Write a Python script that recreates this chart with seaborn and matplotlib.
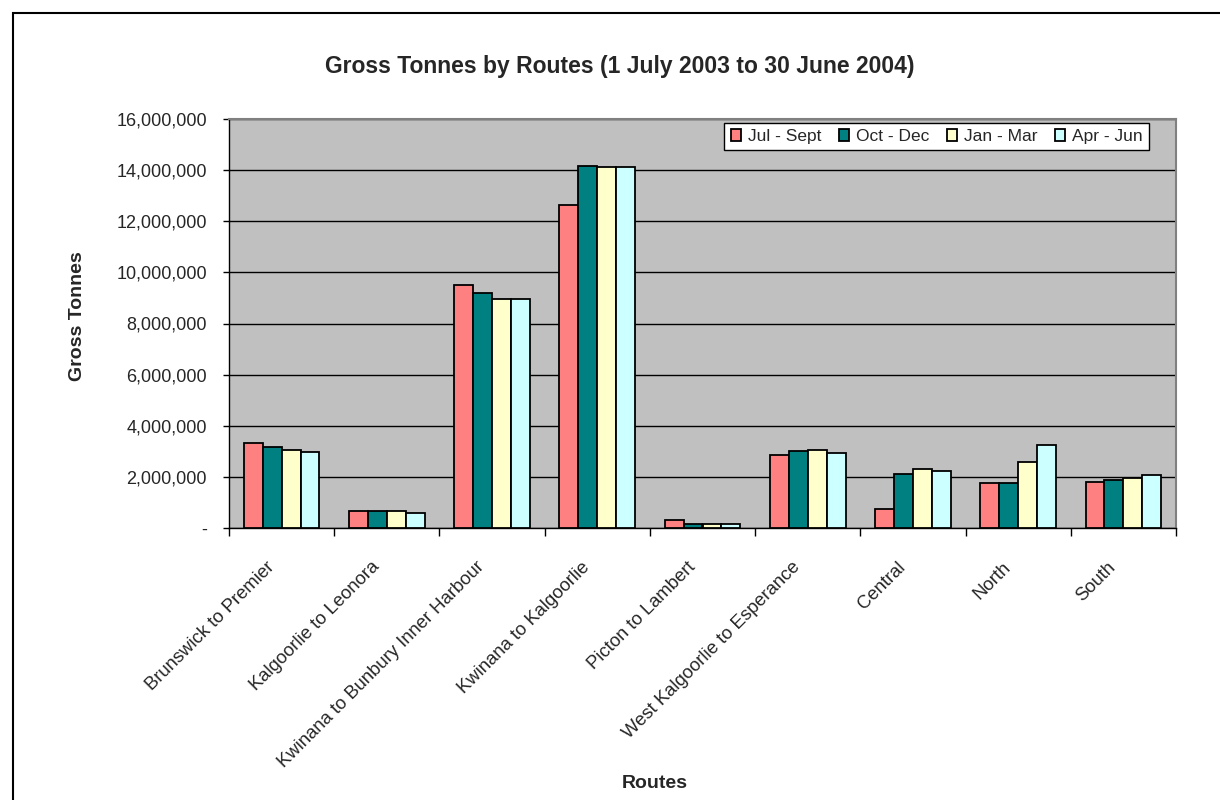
import matplotlib
matplotlib.use("Agg")
import matplotlib.pyplot as plt
import matplotlib.ticker as mticker
from matplotlib.transforms import ScaledTranslation
import seaborn as sns
import pandas as pd

routes = ["Brunswick to Premier", "Kalgoorlie to Leonora", "Kwinana to Bunbury Inner Harbour",
          "Kwinana to Kalgoorlie", "Picton to Lambert", "West Kalgoorlie to Esperance",
          "Central", "North", "South"]
periods = ["Jul - Sept", "Oct - Dec", "Jan - Mar", "Apr - Jun"]
jul_sept = [3310000, 680000, 9500000, 12620000, 300000, 2870000, 760000, 1750000, 1810000]
oct_dec = [3180000, 680000, 9200000, 14170000, 170000, 3000000, 2120000, 1750000, 1880000]
jan_mar = [3050000, 680000, 8940000, 14120000, 170000, 3050000, 2310000, 2570000, 1940000]
apr_jun = [2980000, 570000, 8940000, 14120000, 170000, 2930000, 2240000, 3250000, 2060000]
colors = ["#FF8080", "#008080", "#FFFFCC", "#CCFFFF"]

rows = []
for p, vals in zip(periods, [jul_sept, oct_dec, jan_mar, apr_jun]):
    for r, v in zip(routes, vals):
        rows.append({"Route": r, "Period": p, "Tonnes": v})
df = pd.DataFrame(rows)

sns.set_theme(style="white")
plt.rcParams['font.family'] = ['Liberation Sans', 'DejaVu Sans']

fig = plt.figure(figsize=(12.2, 8.0), dpi=100)
ax = fig.add_axes([229/1220, 1-528/800, (1176-229)/1220, (528-119)/800])

sns.barplot(data=df, x="Route", y="Tonnes", hue="Period", hue_order=periods, order=routes,
            palette=colors, width=0.72, edgecolor="black", linewidth=1.3, saturation=1,
            errorbar=None, ax=ax, zorder=3)

ax.set_facecolor("#C0C0C0")
ax.set_ylim(0, 16000000)
ax.set_xlim(-0.5, len(routes) - 0.5)
ax.yaxis.set_major_locator(mticker.MultipleLocator(2000000))
ax.yaxis.set_major_formatter(mticker.FuncFormatter(lambda v, p: "-" if v == 0 else f"{int(v):,}"))
ax.grid(axis="y", color="black", linewidth=1, zorder=1)
ax.set_axisbelow(True)

for s in ["top", "right"]:
    ax.spines[s].set_color("#808080")
    ax.spines[s].set_linewidth(1.5)
for s in ["left", "bottom"]:
    ax.spines[s].set_color("black")
    ax.spines[s].set_linewidth(1)

ax.tick_params(axis="y", which="major", direction="out", length=4.5, width=1, color="black",
               labelsize=13, left=True, pad=11.5)
ax.tick_params(axis="x", which="major", length=0, labelsize=13.3, pad=22)
ax.xaxis.set_minor_locator(mticker.FixedLocator([i - 0.5 for i in range(len(routes) + 1)]))
ax.tick_params(axis="x", which="minor", direction="out", length=6, width=1, color="black", bottom=True)
ax.set_xticks(range(len(routes)))
ax.set_xticklabels(routes, rotation=45, ha="right", rotation_mode="anchor")
shift = ScaledTranslation(-16/100, 0, fig.dpi_scale_trans)
for lab in ax.get_xticklabels():
    lab.set_transform(lab.get_transform() + shift)

ax.set_xlabel("Routes", fontsize=14, fontweight="bold")
ax.set_ylabel("Gross Tonnes", fontsize=14, fontweight="bold")
ax.xaxis.set_label_coords((655 - 229) / 947, -(783 - 528) / 409)
ax.yaxis.set_label_coords(-(229 - 78) / 947, (528 - 316) / 409)
ax.xaxis.label.set_va("center")
ax.yaxis.label.set_va("center")

fig.text(620/1220, 1 - 67/800, "Gross Tonnes by Routes (1 July 2003 to 30 June 2004)",
         ha="center", va="center", fontsize=16.5, fontweight="bold")

leg = ax.legend(loc="upper right", bbox_to_anchor=((1149 - 229) / 947, (528 - 123) / 409),
                ncol=4, frameon=True, fancybox=False, fontsize=12.5, handlelength=0.6,
                handleheight=0.7, handletextpad=0.4, columnspacing=1.0, borderpad=0.35,
                borderaxespad=0)
leg.get_frame().set_edgecolor("black")
leg.get_frame().set_linewidth(1)
leg.get_frame().set_facecolor("white")
leg.get_frame().set_alpha(1)

# outer chart border
fig.patches.append(plt.Rectangle((13/1220, -0.01), 1.1, 1 - 13/800 + 0.01, transform=fig.transFigure,
                                 fill=False, edgecolor="black", linewidth=1.5))

fig.savefig("out.png", dpi=100, facecolor="white")
